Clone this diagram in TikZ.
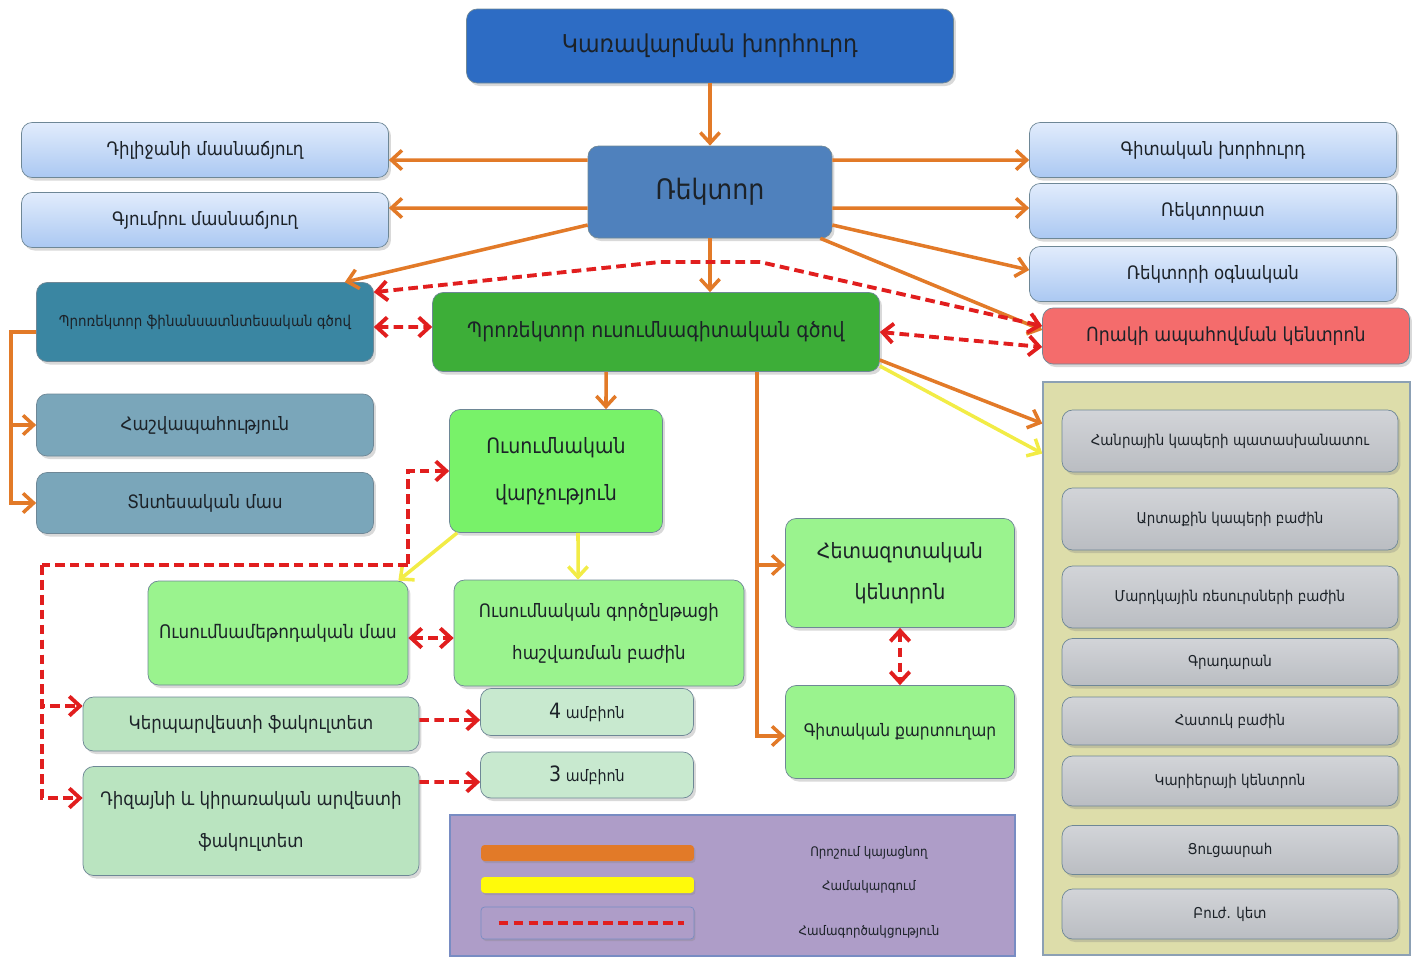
\documentclass[tikz,border=0pt]{standalone}
\usepackage{fontspec}
\setmainfont{DejaVu Sans Condensed}
\usetikzlibrary{arrows.meta,shadows}

\definecolor{inkdark}{RGB}{28,34,40}
\definecolor{boxedge}{RGB}{110,135,150}
\definecolor{boardblue}{RGB}{45,108,196}
\definecolor{rectorblue}{RGB}{79,129,189}
\definecolor{skytop}{RGB}{226,236,252}
\definecolor{skybottom}{RGB}{170,200,242}
\definecolor{qualityred}{RGB}{244,108,108}
\definecolor{financeblue}{RGB}{58,134,162}
\definecolor{financelight}{RGB}{122,166,186}
\definecolor{academicgreen}{RGB}{61,174,56}
\definecolor{officegreen}{RGB}{120,242,105}
\definecolor{lightgreen}{RGB}{154,243,142}
\definecolor{palegreen}{RGB}{186,228,192}
\definecolor{chairgreen}{RGB}{200,233,207}
\definecolor{panelyellow}{RGB}{221,221,170}
\definecolor{paneledge}{RGB}{140,160,180}
\definecolor{greytop}{RGB}{210,212,216}
\definecolor{greybottom}{RGB}{186,189,194}
\definecolor{legendviolet}{RGB}{174,157,200}
\definecolor{legendedge}{RGB}{120,140,195}
\definecolor{decideorange}{RGB}{226,122,40}
\definecolor{syncyellow}{RGB}{242,236,70}
\definecolor{baryellow}{RGB}{255,250,10}
\definecolor{coopred}{RGB}{225,30,30}

\tikzset{
	box/.style={rounded corners=6pt, draw=boxedge, line width=0.4pt, align=center, text=inkdark, inner sep=2pt,
		drop shadow={opacity=0.3, shadow xshift=0.05cm, shadow yshift=-0.06cm}},
	skybox/.style={box, top color=skytop, bottom color=skybottom, minimum width=7.34cm, minimum height=1.1cm,
		font=\fontsize{10.5}{12}\selectfont},
	greybox/.style={box, top color=greytop, bottom color=greybottom, minimum width=6.72cm,
		font=\fontsize{8.5}{10}\selectfont},
	panelbox/.style={draw=paneledge, line width=0.8pt},
	bar/.style={rounded corners=2pt, minimum width=4.26cm, minimum height=0.32cm, inner sep=0pt,
		drop shadow={opacity=0.3, shadow xshift=0.03cm, shadow yshift=-0.04cm}},
	legendtext/.style={font=\fontsize{7.5}{9}\selectfont, text=inkdark},
	decideline/.style={->, draw=decideorange, line width=2pt},
	syncline/.style={->, draw=syncyellow, line width=2pt},
	coopline/.style={<->, draw=coopred, line width=2.2pt, dash pattern=on 5.5pt off 3pt},
}

\begin{document}
\begin{tikzpicture}[x=0.02cm, y=-0.02cm, >={Straight Barb[length=6pt,width=11pt]}]
	\useasboundingbox (0,0) rectangle (1422,958);
	\node[panelbox, fill=panelyellow, minimum width=7.34cm, minimum height=11.46cm] (panel) at (1226.5,668.5) {};
	\node[panelbox, fill=legendviolet, draw=legendedge, minimum width=11.3cm, minimum height=2.82cm] (legend) at (732.5,885.5) {};

	% top of the chart
	\node[box, fill=boardblue, minimum width=9.74cm, minimum height=1.48cm, font=\fontsize{14}{16}\selectfont] (board) at (710,46) {Կառավարման խորհուրդ};
	\node[box, fill=rectorblue, minimum width=4.88cm, minimum height=1.84cm, font=\fontsize{16}{18}\selectfont] (rector) at (710,192) {Ռեկտոր};
	\node[skybox] (dilijan) at (205,150) {Դիլիջանի մասնաճյուղ};
	\node[skybox] (gyumri) at (205,220) {Գյումրու մասնաճյուղ};
	\node[skybox] (council) at (1213,150) {Գիտական խորհուրդ};
	\node[skybox] (rectorate) at (1213,211) {Ռեկտորատ};
	\node[skybox] (assistant) at (1213,274) {Ռեկտորի օգնական};
	\node[box, fill=qualityred, minimum width=7.34cm, minimum height=1.12cm, font=\fontsize{11}{13}\selectfont] (quality) at (1226,336) {Որակի ապահովման կենտրոն};

	% vice rectors
	\node[box, fill=financeblue, minimum width=6.74cm, minimum height=1.58cm, font=\fontsize{8.5}{10}\selectfont] (finvp) at (205,322) {Պրոռեկտոր ֆինանսատնտեսական գծով};
	\node[box, fill=financelight, minimum width=6.74cm, minimum height=1.24cm, font=\fontsize{10.5}{12}\selectfont] (account) at (205,425) {Հաշվապահություն};
	\node[box, fill=financelight, minimum width=6.74cm, minimum height=1.22cm, font=\fontsize{10.5}{12}\selectfont] (supply) at (205,503) {Տնտեսական մաս};
	\node[box, fill=academicgreen, minimum width=8.94cm, minimum height=1.58cm, font=\fontsize{12}{14}\selectfont] (acvp) at (656,332) {Պրոռեկտոր ուսումնագիտական գծով};

	% academic side
	\node[box, fill=officegreen, minimum width=4.26cm, minimum height=2.46cm, font=\fontsize{12}{27}\selectfont] (office) at (556,471) {Ուսումնական\\վարչություն};
	\node[box, fill=lightgreen, minimum width=5.2cm, minimum height=2.08cm, font=\fontsize{10.6}{12}\selectfont] (method) at (278,633) {Ուսումնամեթոդական մաս};
	\node[box, fill=lightgreen, minimum width=5.8cm, minimum height=2.12cm, font=\fontsize{10.5}{24}\selectfont] (records) at (599,633) {Ուսումնական գործընթացի\\հաշվառման բաժին};
	\node[box, fill=lightgreen, minimum width=4.58cm, minimum height=2.18cm, font=\fontsize{12}{23}\selectfont] (research) at (900,573) {Հետազոտական\\կենտրոն};
	\node[box, fill=lightgreen, minimum width=4.58cm, minimum height=1.86cm, font=\fontsize{9.8}{12}\selectfont] (secretary) at (900,732) {Գիտական քարտուղար};
	\node[box, fill=palegreen, minimum width=6.72cm, minimum height=1.08cm, font=\fontsize{10.5}{12}\selectfont] (finearts) at (251,724) {Կերպարվեստի ֆակուլտետ};
	\node[box, fill=palegreen, minimum width=6.72cm, minimum height=2.18cm, font=\fontsize{10.5}{24}\selectfont] (design) at (251,821) {Դիզայնի և կիրառական արվեստի\\ֆակուլտետ};
	\node[box, fill=chairgreen, minimum width=4.26cm, minimum height=0.94cm, font=\fontsize{9}{11}\selectfont] (chairs4) at (587,712) {{\large 4} ամբիոն};
	\node[box, fill=chairgreen, minimum width=4.26cm, minimum height=0.92cm, font=\fontsize{9}{11}\selectfont] (chairs3) at (587,775) {{\large 3} ամբիոն};

	% services
	\foreach \n/\y/\h/\t in {pr/441/1.24/Հանրային կապերի պատասխանատու, ext/519/1.24/Արտաքին կապերի բաժին, hr/597/1.24/Մարդկային ռեսուրսների բաժին, lib/662/0.94/Գրադարան, spec/721/0.96/Հատուկ բաժին, career/781/1.0/Կարիերայի կենտրոն, hall/850/0.98/Ցուցասրահ, med/914/1.0/Բուժ. կետ}
		\node[greybox, minimum height=\h cm] (\n) at (1230,\y) {\t};

	% legend
	\node[bar, fill=decideorange] (barA) at (587.5,853) {};
	\node[bar, fill=baryellow] (barB) at (587.5,885) {};
	\node[bar, fill=legendviolet, draw=legendedge, minimum height=0.64cm] (barC) at (587.5,923) {};
	\draw[coopline, -] ([xshift=0.36cm]barC.west) -- ([xshift=-0.2cm]barC.east);
	\node[legendtext] (keyA) at (869,853) {Որոշում կայացնող};
	\node[legendtext] (keyB) at (869,887) {Համակարգում};
	\node[legendtext] (keyC) at (869,932) {Համագործակցություն};

	% decisions
	\draw[decideline] (board) -- (rector);
	\draw[decideline] ([yshift=0.64cm]rector.west) -- ([yshift=-0.2cm]dilijan.east);
	\draw[decideline] ([yshift=-0.32cm]rector.west) -- ([yshift=0.24cm]gyumri.east);
	\draw[decideline] ([yshift=-0.66cm]rector.west) -- ([xshift=-0.58cm]finvp.north east);
	\draw[decideline] ([yshift=0.64cm]rector.east) -- ([yshift=-0.2cm]council.west);
	\draw[decideline] ([yshift=-0.32cm]rector.east) -- ([yshift=0.06cm]rectorate.west);
	\draw[decideline] ([yshift=-0.66cm]rector.east) -- ([yshift=0.08cm]assistant.west);
	\draw[decideline] ([xshift=-0.24cm]rector.south east) -- ([yshift=0.12cm]quality.west);
	\draw[decideline] (rector.south) -- (rector.south |- acvp.north);
	\draw[decideline] ([yshift=-0.56cm]acvp.east) -- ([yshift=4.9cm]panel.west);
	\draw[decideline] ([xshift=-1cm]acvp.south) -- ([xshift=1cm]office.north);
	\draw[decideline] ([xshift=2.02cm]acvp.south) |- ([yshift=0.16cm]research.west);
	\draw[decideline] ([xshift=2.02cm]acvp.south) |- ([yshift=-0.08cm]secretary.west);
	\draw[decideline] ([yshift=-0.2cm]finvp.west) -- ++(-0.5cm,0) |- (account.west);
	\draw[decideline] ([yshift=-0.2cm]finvp.west) -- ++(-0.5cm,0) |- (supply.west);

	% coordination
	\draw[syncline] ([yshift=-0.68cm]acvp.east) -- ([yshift=4.3cm]panel.west);
	\draw[syncline] ([xshift=0.16cm]office.south west) -- ([xshift=-0.2cm]method.north east);
	\draw[syncline] ([xshift=0.44cm]office.south) -- ([xshift=-0.42cm]records.north);

	% cooperation
	\coordinate (bendA) at (660,262);
	\coordinate (bendB) at (760,262);
	\coordinate (fork) at (408,565);
	\coordinate (trunk) at (42,565);
	\draw[coopline] ([yshift=-0.2cm]finvp.north east) -- (bendA) -- (bendB) -- ([yshift=0.2cm]quality.west);
	\draw[coopline] ([yshift=-0.1cm]finvp.east) -- ([yshift=0.1cm]acvp.west);
	\draw[coopline] (acvp.east) -- ([yshift=-0.22cm]quality.west);
	\draw[coopline] ([yshift=-0.1cm]method.east) -- ([yshift=-0.1cm]records.west);
	\draw[coopline] (research) -- (secretary);
	\draw[coopline, <-] (office.west) -| (fork);
	\draw[coopline, -] (fork) -- (trunk);
	\draw[coopline, ->] (trunk) |- ([yshift=0.36cm]finearts.west);
	\draw[coopline, ->] (trunk) |- ([yshift=0.46cm]design.west);
	\draw[coopline, ->] ([yshift=0.08cm]finearts.east) -- ([yshift=-0.16cm]chairs4.west);
	\draw[coopline, ->] ([yshift=0.78cm]design.east) -- ([yshift=-0.14cm]chairs3.west);
\end{tikzpicture}
\end{document}
